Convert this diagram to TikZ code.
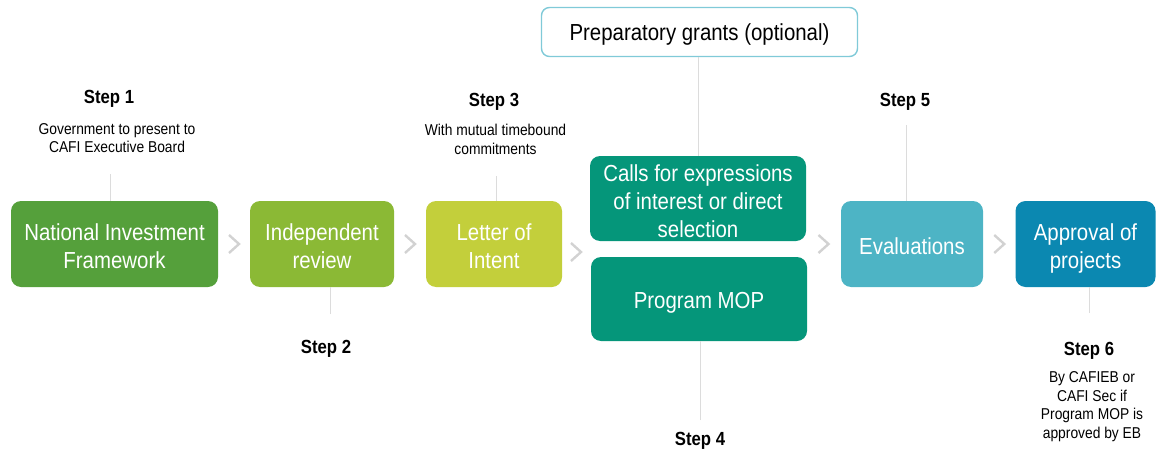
\documentclass[tikz,border=0pt]{standalone}
\usepackage{fontspec}
\setmainfont{Liberation Sans}[FakeStretch=0.88]
\usetikzlibrary{calc}
\definecolor{cnif}{HTML}{55A03B}
\definecolor{cir}{HTML}{8BB935}
\definecolor{cloi}{HTML}{C3CF3B}
\definecolor{ccall}{HTML}{05967A}
\definecolor{cev}{HTML}{4DB4C5}
\definecolor{cap}{HTML}{0B88B1}
\definecolor{cprep}{HTML}{80CAD8}
\definecolor{cline}{HTML}{DCDCDC}
\definecolor{cchev}{HTML}{D2D2D2}
\tikzset{
  box/.style={rounded corners=10pt, inner sep=0pt},
  boxtext/.style={text=white, align=center, inner sep=0pt,
    font=\fontsize{23.2}{28}\selectfont},
  steplabel/.style={font=\bfseries\fontsize{19}{22}\selectfont, inner sep=0pt},
  subtext/.style={font=\fontsize{15.7}{18.5}\selectfont, align=center, inner sep=0pt},
  conn/.style={draw=cline, line width=1pt},
  chevline/.style={draw=cchev, line width=2.4pt},
  chev/.pic={\path[chevline] (-5,-9)--(5,0)--(-5,9);}
}
\begin{document}
\begin{tikzpicture}[x=1pt,y=-1pt]
\useasboundingbox (0,0) rectangle (1156,452);
% boxes
\node[box, fill=cnif, minimum width=207pt, minimum height=86pt,
  label={[boxtext,yshift=-2pt]center:National Investment\\Framework}] (nif) at (114.5,244) {};
\node[box, fill=cir, minimum width=144pt, minimum height=86pt,
  label={[boxtext,yshift=-2pt]center:Independent\\review}] (ir) at (322,244) {};
\node[box, fill=cloi, minimum width=136pt, minimum height=86pt,
  label={[boxtext,yshift=-2pt]center:Letter of\\Intent}] (loi) at (494,244) {};
\node[box, fill=ccall, minimum width=216pt, minimum height=85pt,
  label={[boxtext,yshift=-2.5pt]center:Calls for expressions\\of interest or direct\\selection}] (calls) at (698,198.5) {};
\node[box, fill=ccall, minimum width=216pt, minimum height=84pt,
  label={[boxtext,yshift=-4pt]center:Program MOP}] (mop) at (699,299) {};
\node[box, fill=cev, minimum width=142pt, minimum height=86pt,
  label={[boxtext,yshift=-2pt]center:Evaluations}] (ev) at (912,244) {};
\node[box, fill=cap, minimum width=140pt, minimum height=86pt,
  label={[boxtext,yshift=-4pt]center:Approval of\\projects}] (ap) at (1085.5,244) {};
\node[rounded corners=8pt, draw=cprep, line width=1.4pt, fill=white, minimum width=316pt, minimum height=49pt, inner sep=0pt,
  label={[boxtext,text=black,yshift=-3pt]center:Preparatory grants (optional)}] (prep) at (699.5,32) {};
% step labels
\node[steplabel] (s1) at (109,99) {Step 1};
\node[subtext] (t1) at (117,138) {Government to present to\\CAFI Executive Board};
\node[steplabel] (s2) at (326,349) {Step 2};
\node[steplabel] (s3) at (494,102) {Step 3};
\node[subtext] (t3) at (495.5,139.5) {With mutual timebound\\commitments};
\node[steplabel] (s4) at (700,441) {Step 4};
\node[steplabel] (s5) at (905,102) {Step 5};
\node[steplabel] (s6) at (1089,351) {Step 6};
\node[subtext] (t6) at (1092,406.5) {By CAFIEB or\\CAFI Sec if\\Program MOP is\\approved by EB};
% connector lines
\coordinate (c1) at (110,174);
\coordinate (c2) at (330,314);
\coordinate (c3) at (496,176);
\coordinate (cp) at (698,57);
\coordinate (c4) at (700,420);
\coordinate (c5) at (906,125);
\coordinate (c6) at (1089,313);
\draw[conn] (c1) -- (c1 |- nif.north);
\draw[conn] (c2) -- (c2 |- ir.south);
\draw[conn] (c3) -- (c3 |- loi.north);
\draw[conn] (cp |- prep.south) -- (cp |- calls.north);
\draw[conn] (c4) -- (c4 |- mop.south);
\draw[conn] (c5) -- (c5 |- ev.north);
\draw[conn] (c6) -- (c6 |- ap.south);
% chevrons
\pic at ($(nif.east)!0.5!(ir.west)$) {chev};
\pic at ($(ir.east)!0.5!(loi.west)$) {chev};
\pic at ($(loi.east)!0.5!(calls.west |- loi.east) + (0,8)$) {chev};
\pic at ($(calls.east |- ev.west)!0.5!(ev.west)$) {chev};
\pic at ($(ev.east)!0.5!(ap.west)$) {chev};
\end{tikzpicture}
\end{document}
